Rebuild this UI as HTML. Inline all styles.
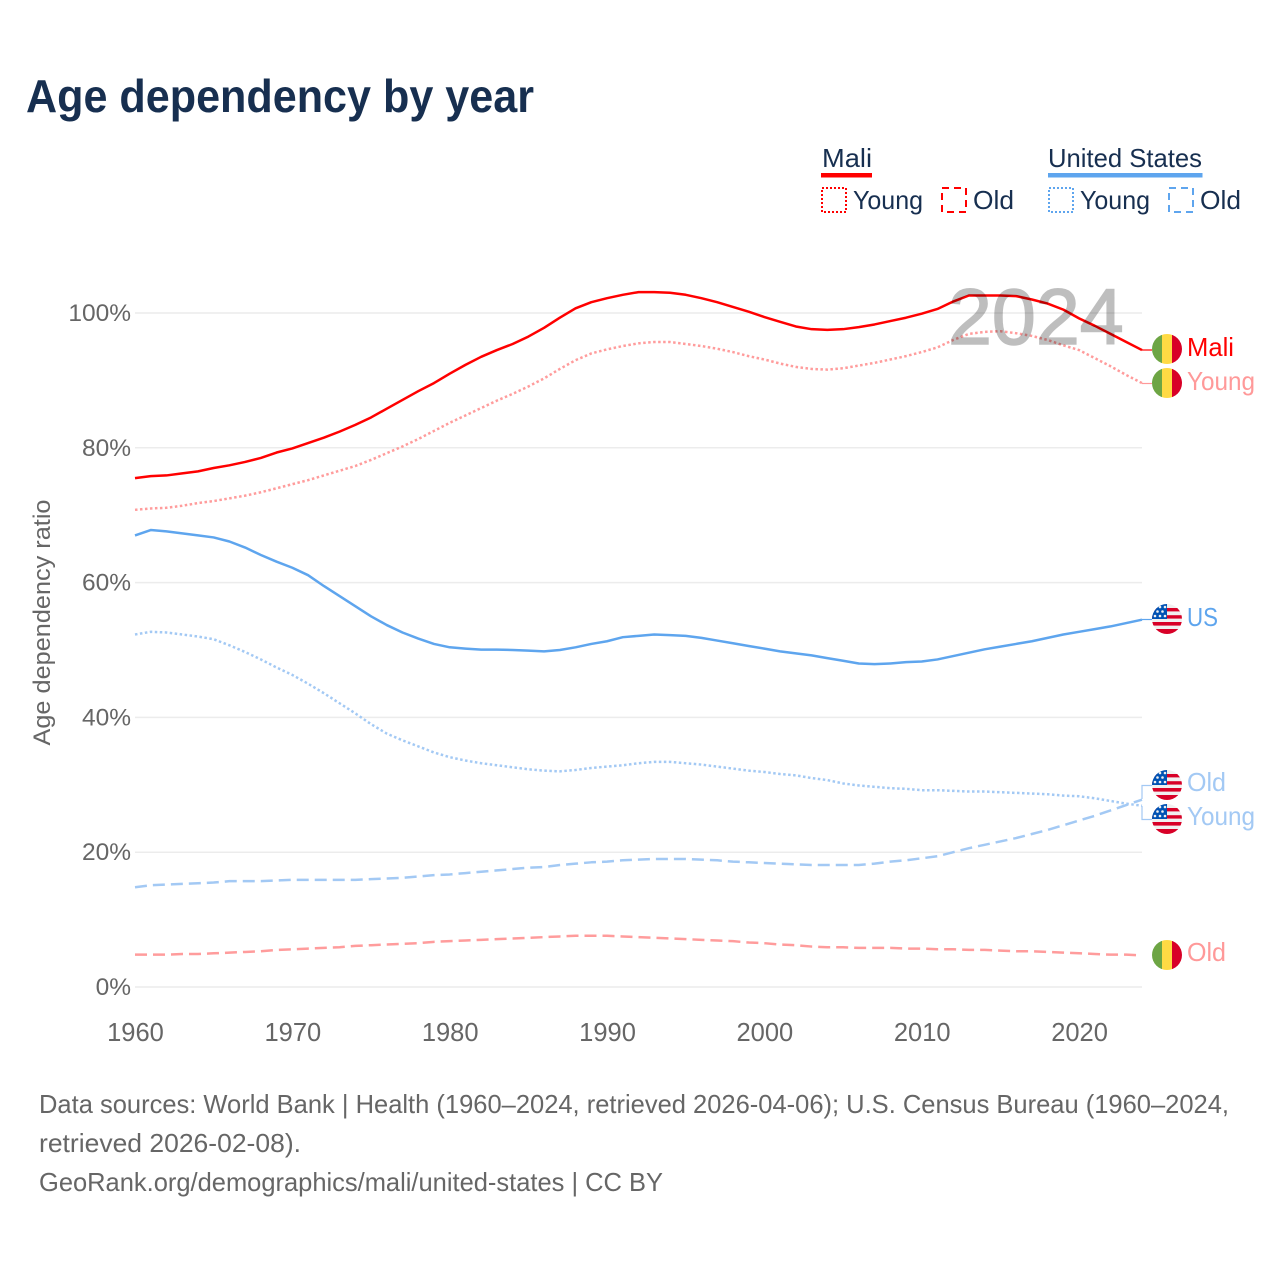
<!DOCTYPE html>
<html lang="en">
<head>
<meta charset="utf-8">
<title>Age dependency by year</title>
<style>
html,body{margin:0;padding:0;background:#fff}
svg{display:block}
text{font-family:"Liberation Sans",sans-serif}
</style>
</head>
<body>
<svg id="chart" xmlns="http://www.w3.org/2000/svg" width="1280" height="1280" viewBox="0 0 1280 1280">
<rect width="1280" height="1280" fill="#fff"/>
<defs>
<clipPath id="flag-clip"><circle cx="15" cy="15" r="15"/></clipPath>
<g id="flag-ml">
<g clip-path="url(#flag-clip)">
<rect x="0" y="0" width="10" height="30" fill="#6da544"/>
<rect x="10" y="0" width="10" height="30" fill="#ffda44"/>
<rect x="20" y="0" width="10" height="30" fill="#d80027"/>
</g>
</g>
<g id="flag-us">
<g clip-path="url(#flag-clip)">
<rect width="30" height="30" fill="#f0f0f0"/>
<rect x="0" y="4" width="30" height="3.4" fill="#d80027"/>
<rect x="0" y="11.200" width="30" height="3.4" fill="#d80027"/>
<rect x="0" y="18" width="30" height="3.6" fill="#d80027"/>
<rect x="0" y="25" width="30" height="5" fill="#d80027"/>
<path d="M0 15V0H15V15Z" fill="#0052b4"/>
<circle cx="3" cy="12" r="1.3" fill="#f0f0f0"/><circle cx="8" cy="12" r="1.3" fill="#f0f0f0"/><circle cx="13" cy="12" r="1.3" fill="#f0f0f0"/>
<circle cx="5.500" cy="7.500" r="1.3" fill="#f0f0f0"/><circle cx="10.500" cy="7.500" r="1.3" fill="#f0f0f0"/>
<circle cx="8" cy="3" r="1.3" fill="#f0f0f0"/><circle cx="13" cy="3" r="1.3" fill="#f0f0f0"/>
</g>
</g>
</defs>

<text x="26" y="112" font-size="46" font-weight="700" fill="#172f50" textLength="508" lengthAdjust="spacingAndGlyphs">Age dependency by year</text>

<g id="grid"></g>
<g id="x-axis"></g>
<g id="y-axis"></g>
<text transform="translate(50 622.5) rotate(-90)" text-anchor="middle" font-size="24" fill="#666" textLength="246" lengthAdjust="spacingAndGlyphs">Age dependency ratio</text>

<g id="series"></g>

<text x="948" y="344" font-size="79" fill="#000" stroke="#000" stroke-width="1.500" opacity="0.25">2024</text>

<g fill="none" stroke-width="1.2">
<path d="M1142 350H1152" stroke="#f00"/>
<path d="M1142 383.500H1152" stroke="#f99"/>
<path d="M1142 619.500H1152" stroke="#5ea5ee"/>
<path d="M1142 799V785.500H1152" stroke="#a3c9f4"/>
<path d="M1142 806V819.500H1152" stroke="#a3c9f4"/>
</g>

<g font-size="26">
<use href="#flag-ml" x="1152" y="334"/>
<use href="#flag-ml" x="1152" y="368"/>
<use href="#flag-us" x="1152" y="604"/>
<use href="#flag-us" x="1152" y="770"/>
<use href="#flag-us" x="1152" y="804"/>
<use href="#flag-ml" x="1152" y="940"/>
<text x="1187" y="356" fill="#f00" textLength="47" lengthAdjust="spacingAndGlyphs">Mali</text>
<text x="1187" y="390" fill="#f99" textLength="68" lengthAdjust="spacingAndGlyphs">Young</text>
<text x="1187" y="626" fill="#5ea5ee" textLength="31" lengthAdjust="spacingAndGlyphs">US</text>
<text x="1187" y="791" fill="#a3c9f4" textLength="39" lengthAdjust="spacingAndGlyphs">Old</text>
<text x="1187" y="825" fill="#a3c9f4" textLength="68" lengthAdjust="spacingAndGlyphs">Young</text>
<text x="1187" y="961" fill="#f99" textLength="39" lengthAdjust="spacingAndGlyphs">Old</text>
</g>

<g font-size="26" fill="#172f50">
<text x="822" y="167" textLength="50" lengthAdjust="spacingAndGlyphs">Mali</text>
<rect x="821" y="173" width="51" height="4.500" fill="#f00"/>
<text x="1048" y="167" textLength="154" lengthAdjust="spacingAndGlyphs">United States</text>
<rect x="1048" y="173" width="154.500" height="4.500" fill="#5ea5ee"/>
<rect x="822" y="188" width="24" height="24" fill="none" stroke="#f00" stroke-width="2" stroke-dasharray="2 2"/>
<text x="853" y="209" textLength="70" lengthAdjust="spacingAndGlyphs">Young</text>
<rect x="942" y="188" width="24" height="24" fill="none" stroke="#f00" stroke-width="2" stroke-dasharray="7 5"/>
<text x="973" y="209" textLength="41" lengthAdjust="spacingAndGlyphs">Old</text>
<rect x="1049" y="188" width="24" height="24" fill="none" stroke="#5ea5ee" stroke-width="2" stroke-dasharray="2 2"/>
<text x="1080" y="209" textLength="70" lengthAdjust="spacingAndGlyphs">Young</text>
<rect x="1169" y="188" width="24" height="24" fill="none" stroke="#5ea5ee" stroke-width="2" stroke-dasharray="7 5"/>
<text x="1200" y="209" textLength="41" lengthAdjust="spacingAndGlyphs">Old</text>
</g>

<g font-size="26" fill="#666">
<text x="39" y="1113" textLength="1190" lengthAdjust="spacingAndGlyphs">Data sources: World Bank | Health (1960–2024, retrieved 2026-04-06); U.S. Census Bureau (1960–2024,</text>
<text x="39" y="1152" textLength="262" lengthAdjust="spacingAndGlyphs">retrieved 2026-02-08).</text>
<text x="39" y="1191" textLength="624" lengthAdjust="spacingAndGlyphs">GeoRank.org/demographics/mali/united-states | CC BY</text>
</g>
</svg>

<script>
const startYear = 1960;
const endYear = 2024;
const xTickLabels = [1960, 1970, 1980, 1990, 2000, 2010, 2020];
const yTickLabels = [0, 20, 40, 60, 80, 100];

const maliTotal = [75.5,75.8,75.9,76.2,76.5,77.0,77.4,77.9,78.5,79.3,79.9,80.7,81.5,82.4,83.4,84.5,85.8,87.1,88.4,89.6,91.0,92.3,93.5,94.5,95.4,96.5,97.8,99.3,100.7,101.6,102.2,102.7,103.1,103.1,103.0,102.7,102.2,101.6,100.9,100.2,99.4,98.7,98.0,97.6,97.5,97.6,97.9,98.3,98.8,99.3,99.9,100.6,101.7,102.6,102.6,102.6,102.5,102.0,101.4,100.5,99.2,98.1,96.9,95.7,94.5];
const maliYoung = [70.8,71.0,71.1,71.4,71.8,72.1,72.5,72.9,73.4,74.0,74.6,75.2,75.9,76.6,77.3,78.2,79.2,80.2,81.3,82.5,83.7,84.8,85.9,87.0,88.0,89.1,90.3,91.7,93.0,94.0,94.6,95.1,95.5,95.7,95.7,95.4,95.1,94.7,94.2,93.6,93.1,92.5,92.0,91.7,91.6,91.8,92.2,92.6,93.1,93.6,94.2,94.9,96.0,96.9,97.2,97.3,97.0,96.6,96.0,95.2,94.5,93.3,92.1,90.8,89.6];
const maliOld = [4.8,4.8,4.8,4.9,4.9,5.0,5.1,5.2,5.3,5.5,5.6,5.7,5.8,5.9,6.1,6.2,6.3,6.4,6.5,6.7,6.8,6.9,7.0,7.1,7.2,7.3,7.4,7.5,7.6,7.6,7.6,7.5,7.4,7.3,7.2,7.1,7.0,6.9,6.8,6.6,6.5,6.3,6.2,6.0,5.9,5.9,5.8,5.8,5.8,5.7,5.7,5.6,5.6,5.5,5.5,5.4,5.3,5.3,5.2,5.1,5.0,4.9,4.8,4.8,4.7];
const usTotal = [67.0,67.8,67.6,67.3,67.0,66.7,66.1,65.2,64.1,63.1,62.2,61.1,59.5,58.0,56.5,55.0,53.7,52.6,51.7,50.9,50.4,50.2,50.05,50.05,50.0,49.9,49.8,50.0,50.4,50.9,51.3,51.9,52.1,52.3,52.2,52.1,51.8,51.4,51.0,50.6,50.2,49.8,49.5,49.2,48.8,48.4,48.0,47.9,48.0,48.2,48.3,48.6,49.1,49.6,50.1,50.5,50.9,51.3,51.8,52.3,52.7,53.1,53.5,54.0,54.5];
const usYoung = [52.3,52.7,52.6,52.3,52.0,51.6,50.7,49.7,48.6,47.4,46.3,45.0,43.6,42.1,40.6,39.0,37.6,36.6,35.7,34.8,34.1,33.6,33.2,32.9,32.6,32.3,32.1,32.0,32.2,32.5,32.7,32.9,33.2,33.4,33.4,33.2,33.0,32.7,32.4,32.1,31.9,31.6,31.4,31.0,30.7,30.2,29.9,29.7,29.5,29.4,29.2,29.2,29.1,29.0,29.0,28.9,28.8,28.7,28.6,28.4,28.3,28.0,27.6,27.2,26.9];
const usOld = [14.8,15.1,15.2,15.3,15.4,15.5,15.7,15.7,15.7,15.8,15.9,15.9,15.9,15.9,15.9,16.0,16.1,16.2,16.4,16.6,16.7,16.9,17.1,17.3,17.5,17.7,17.8,18.1,18.3,18.5,18.6,18.8,18.9,19.0,19.0,19.0,18.9,18.8,18.6,18.5,18.4,18.3,18.2,18.1,18.1,18.1,18.1,18.3,18.6,18.8,19.1,19.4,20.0,20.6,21.1,21.6,22.1,22.7,23.3,24.0,24.7,25.4,26.2,27.0,27.8];

const SVGNS = 'http://www.w3.org/2000/svg';
const plotLeft = 135, plotRight = 1142, plotBottom = 987, plotTop100 = 313;
function xScale(year) { return plotLeft + (year - startYear) * (plotRight - plotLeft) / (endYear - startYear); }
function yScale(value) { return plotBottom - value * (plotBottom - plotTop100) / 100; }

const gridG = document.getElementById('grid');
const xG = document.getElementById('x-axis');
const yG = document.getElementById('y-axis');
const seriesG = document.getElementById('series');

yTickLabels.forEach(function (v) {
  const line = document.createElementNS(SVGNS, 'line');
  
  
  line.setAttribute('x1', plotLeft);
  line.setAttribute('x2', plotRight);
  line.setAttribute('y1', yScale(v));
  line.setAttribute('y2', yScale(v));
  line.setAttribute('stroke', '#ececec');
  line.setAttribute('stroke-width', '1.500');
  gridG.appendChild(line);

  const t = document.createElementNS(SVGNS, 'text');
  
  
  t.setAttribute('x', 131);
  t.setAttribute('y', yScale(v) + 8);
  t.setAttribute('text-anchor', 'end');
  t.setAttribute('font-size', '24.500');
  t.setAttribute('fill', '#666');
  t.textContent = v + '%';
  yG.appendChild(t);
});

xTickLabels.forEach(function (yr) {
  const t = document.createElementNS(SVGNS, 'text');
  
  
  t.setAttribute('x', xScale(yr) + 0.5);
  t.setAttribute('y', 1041);
  t.setAttribute('text-anchor', 'middle');
  t.setAttribute('font-size', '25.500');
  t.setAttribute('fill', '#666');
  t.textContent = yr;
  xG.appendChild(t);
});

function drawLine(values, name, color, dash) {
  const d = values.map(function (v, i) {
    return (i ? 'L' : 'M') + xScale(startYear + i).toFixed(2) + ' ' + yScale(v).toFixed(2);
  }).join('');
  const p = document.createElementNS(SVGNS, 'path');
  
  
  p.setAttribute('d', d);
  p.setAttribute('fill', 'none');
  p.setAttribute('stroke', color);
  p.setAttribute('stroke-width', '2.500');
  p.setAttribute('stroke-linejoin', 'round');
  if (dash) p.setAttribute('stroke-dasharray', dash);
  seriesG.appendChild(p);
}

drawLine(maliOld, 'line-mali-old', '#ff9c9c', '12 6');
drawLine(usOld, 'line-us-old', '#a3c9f4', '12 6');
drawLine(usYoung, 'line-us-young', '#a3c9f4', '2.500 2.500');
drawLine(maliYoung, 'line-mali-young', '#ff9c9c', '2.500 2.500');
drawLine(usTotal, 'line-us-total', '#5ea5ee', '');
drawLine(maliTotal, 'line-mali-total', '#ff0000', '');
</script>
</body>
</html>
